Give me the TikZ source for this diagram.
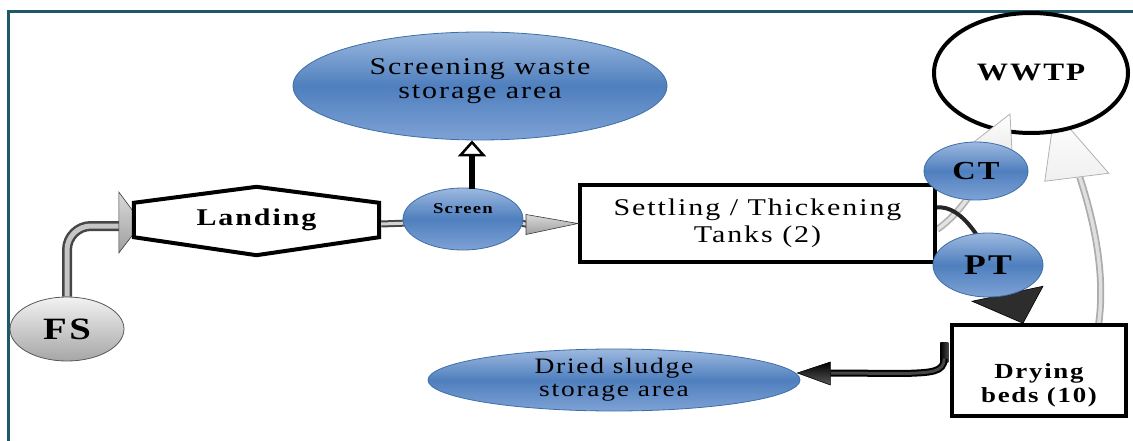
\documentclass[tikz,border=0pt]{standalone}
\usepackage{fontspec}
\setmainfont{Liberation Serif}[FakeStretch=1.25,LetterSpace=8]
\usetikzlibrary{shapes.geometric,calc,backgrounds,arrows.meta}
\definecolor{frameteal}{HTML}{1F5968}
\definecolor{bluetop}{HTML}{9DB9DF}
\definecolor{bluemid}{HTML}{4F7FBE}
\definecolor{bluebot}{HTML}{7EA2D5}
\definecolor{blueline}{HTML}{3E6EA7}
\newcommand\fsz[2]{\fontsize{#1}{#2}\selectfont}
\begin{document}
\begin{tikzpicture}[x=1pt,y=-1pt,
  blueell/.style={ellipse, draw=blueline, line width=0.8pt, top color=bluetop,
    bottom color=bluebot, middle color=bluemid, inner sep=0pt, align=center},
  grayell/.style={ellipse, draw=gray!70!black, line width=0.8pt, shading angle=30,
    top color=gray!10, bottom color=gray!70, inner sep=0pt},
  boxnode/.style={rectangle, draw=black, fill=white, inner sep=0pt, align=center},
  tube/.style n args={4}{line width=#1, draw=#3, line cap=butt,
    postaction={draw=#4, line width=#2}},
  grayhead/.style={top color=gray!30, bottom color=gray!75, draw=gray!45!black, line width=0.6pt},
  palehead/.style={fill=gray!6, draw=gray!60, line width=0.8pt, line join=miter},
  darkhead/.style={top color=black, bottom color=gray!70!black, draw=black, line width=0.6pt},
]
\useasboundingbox (0,0) rectangle (1133,441);

% ---- stations ----
\node[blueell, minimum width=374, minimum height=108,
  label={[font=\fsz{24}{24}, align=center, yshift=5pt]center:Screening waste\\storage area}] (swaste) at (480,86) {};
\node[grayell, minimum width=114, minimum height=64, font=\bfseries\fsz{31}{32}] (fs) at (67,329) {FS};
\node[inner sep=0pt, minimum width=245, minimum height=34, font=\bfseries\fsz{24}{24}] (landing) at (256.5,220) {Landing};
\node[blueell, minimum width=120, minimum height=62,
  label={[font=\bfseries\fsz{15}{16}, yshift=10pt]center:Screen}] (screen) at (463,219) {};
\node[boxnode, line width=4pt, minimum width=355, minimum height=77, font=\fsz{24}{27}] (settle) at (757.5,223.5)
  {Settling / Thickening\\Tanks (2)};
\node[blueell, minimum width=372, minimum height=62,
  label={[font=\fsz{22}{23}, align=center]center:Dried sludge\\storage area}] (dried) at (614,380) {};
\node[boxnode, line width=3.5pt, minimum width=174, minimum height=91,
  label={[font=\bfseries\fsz{21.5}{24}, align=center, yshift=-15pt]center:Drying\\beds (10)}] (dry) at (1039,370.5) {};

% head of the drying-bed return, tucked under the WWTP outline
\shadedraw[palehead, top color=white, bottom color=gray!12]
  ($(dry.north east)+(-73,-212)$) -- ($(dry.north east)+(-83,-142)$) -- ($(dry.north east)+(-19,-150)$) -- cycle;

\node[ellipse, draw=black, fill=white, line width=4pt, inner sep=0pt, minimum width=194, minimum height=120,
  font=\bfseries\fsz{25}{25}] (wwtp) at (1031,73) {WWTP};

% head of the clarified-water line, lying over the WWTP outline
\shadedraw[palehead, top color=white, bottom color=gray!15]
  ($(wwtp.south)+(-21,-21)$) -- ($(wwtp.south)+(-61,10)$) -- ($(wwtp.south)+(-19,17)$) -- cycle;
% head of the thickened-sludge line
\fill[gray!35!black] ($(dry.north)+(-67,-22)$) -- ($(dry.north)+(4,-37)$) -- ($(dry.north)+(-16,0)$) -- cycle;
\draw[black, line width=0.6pt, line join=miter] ($(dry.north)+(-67,-22)$) -- ($(dry.north)+(4,-37)$) -- ($(dry.north)+(-16,0)$) -- cycle;

\node[blueell, minimum width=104, minimum height=58, font=\bfseries\fsz{26}{28}] (ct) at (976,171) {CT};
\node[blueell, minimum width=110, minimum height=64, font=\bfseries\fsz{28.5}{30}] (pt) at (988,265) {PT};

% screening waste line with open head
\draw[line width=5.5pt, -{Triangle[open, fill=white, length=16pt, width=28pt, line width=2.5pt]}]
  ($(screen.north)+(9,1)$) -- ($(swaste.south)+(-8,0)$);

% screen to settling tanks
\shadedraw[grayhead] ($(settle.west)+(-52,-9)$) -- (settle.west) -- ($(settle.west)+(-52,11)$) -- cycle;

\begin{pgfonlayer}{background}
  \draw[frameteal, line width=3.2pt] (8.5,441) -- (8.5,11.5) -- (1133,11.5);

  % faecal sludge delivered to the landing
  \draw[tube={10pt}{5pt}{gray!55!black}{gray!45}, rounded corners=24pt]
    (fs.north) |- ($(landing.west)+(-14,6)$);
  \shadedraw[grayhead] ($(landing.west)+(-15,-28)$) -- ($(landing.west)+(8,3)$) -- ($(landing.west)+(-15,33)$) -- cycle;
  \draw[line width=4pt, fill=white, line join=miter]
    (landing.north west) -- ($(landing.north)+(0,-16)$) -- (landing.north east) --
    (landing.south east) -- ($(landing.south)+(0,18)$) -- (landing.south west) -- cycle;

  % landing to screen
  \draw[tube={7pt}{3pt}{gray!55!black}{gray!35}] ($(landing.east)+(2,4)$) -- ($(screen.west)+(6,4)$);
  % screen to settling tanks
  \draw[tube={7pt}{3pt}{gray!55!black}{gray!30}] ($(screen.east)+(-3,4)$) -- ($(settle.west)+(-50,1)$);

  % supernatant to WWTP, passing under CT
  \coordinate (cttail) at ($(wwtp.south)+(-38,14)$);
  \draw[tube={7pt}{3.5pt}{gray!60}{gray!22}] ($(settle.east)+(0,6)$) .. controls (960,214) and (983,180) .. (cttail);

  % thickened sludge to the drying beds, passing under PT
  \coordinate (pttail) at ($(dry.north)+(-33,-28)$);
  \draw[gray!30!black, line width=4pt] ($(settle.east)+(0,-16)$) .. controls (962,205) and (985,240) .. (pttail);

  % drying-bed percolate to WWTP
  \coordinate (dwtail) at ($(dry.north east)+(-48,-146)$);
  \draw[tube={7pt}{3.5pt}{gray!65}{gray!25}] ($(dry.north east)+(-29,0)$) .. controls (1106,270) and (1092,215) .. (dwtail);

  % dried sludge to storage
  \fill[left color=black, right color=gray!55!black] ($(dry.west)+(-10,-28)$) rectangle ($(dry.west)+(-2,-8)$);
  \draw[tube={7pt}{3pt}{black}{gray!55!black}]
    ($(dry.west)+(-6,-12)$) .. controls ($(dry.west)+(-6,2)$) and ($(dry.west)+(-20,2)$) .. ($(dry.west)+(-45,3)$)
    -- ($(dried.east)+(30,-7)$);
  \shadedraw[darkhead] ($(dried.east)+(30,-18)$) -- ($(dried.east)+(-3,-7)$) -- ($(dried.east)+(30,5)$) -- cycle;
\end{pgfonlayer}
\end{tikzpicture}
\end{document}
